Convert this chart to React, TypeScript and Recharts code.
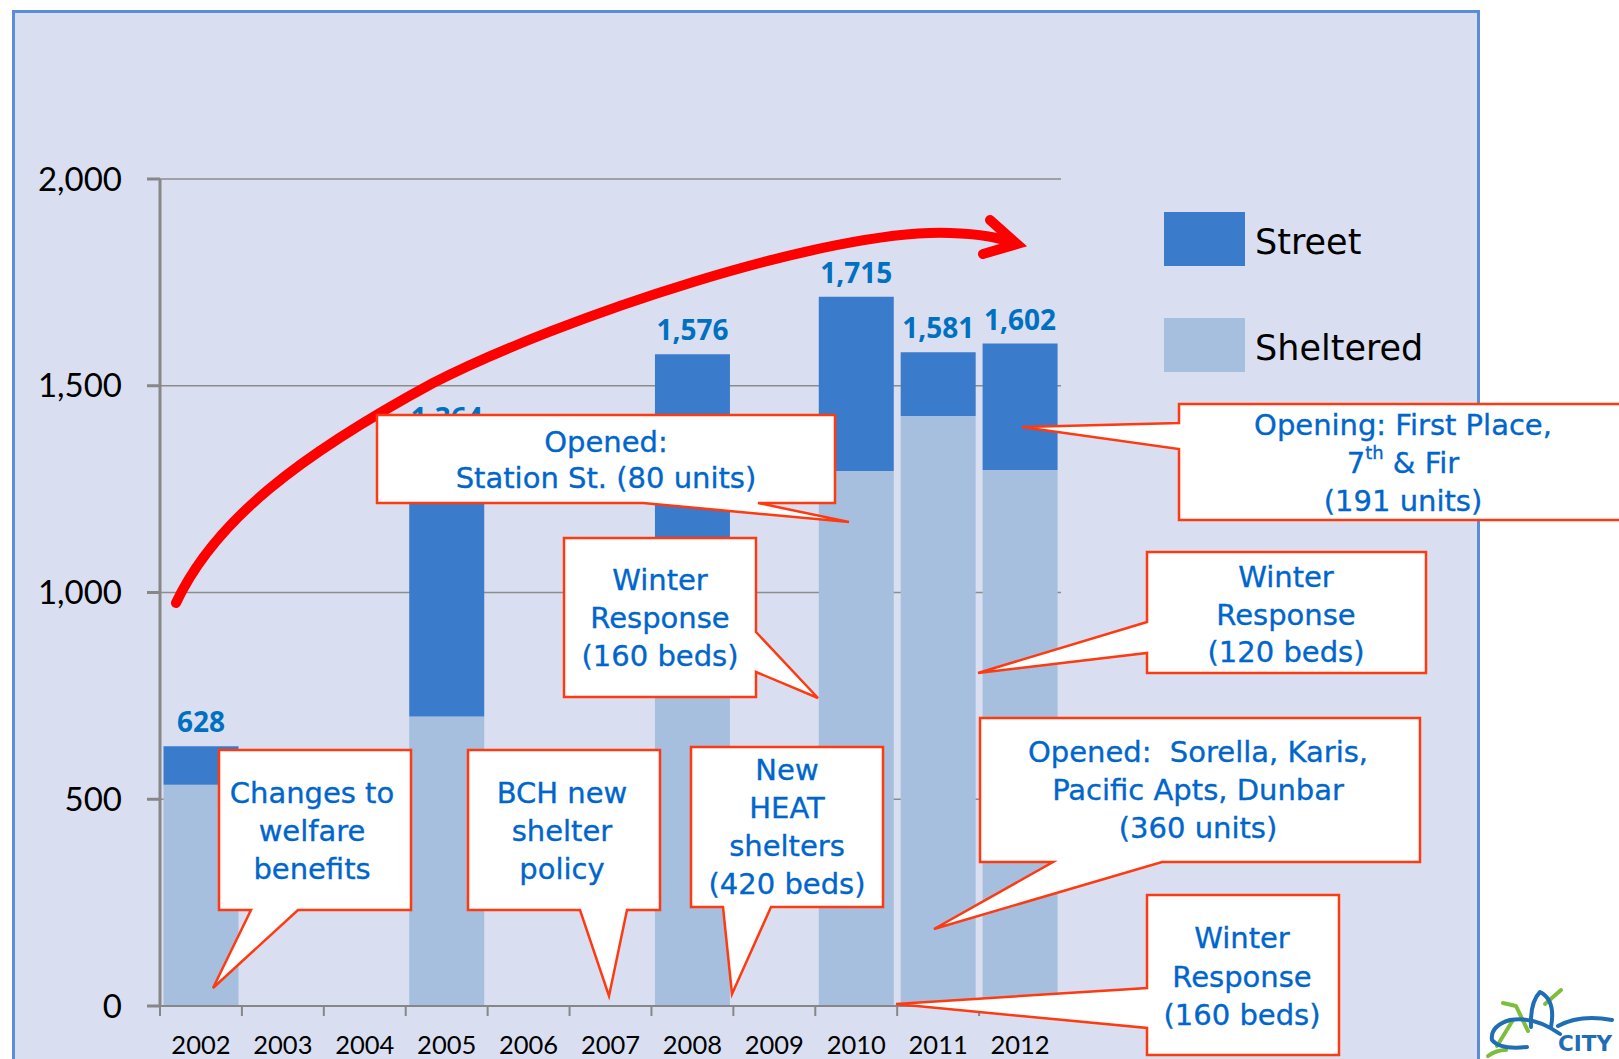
import React from "react";
import { BarChart, Bar, XAxis, YAxis, CartesianGrid, LabelList, Legend } from "recharts";

// counts per year (empty years have no count)
const years = ["2002", "2003", "2004", "2005", "2006", "2007", "2008", "2009", "2010", "2011", "2012"];
const sheltered = [535, null, null, 700, null, null, 765, null, 1294, 1427, 1296];
const street = [93, null, null, 664, null, null, 811, null, 421, 154, 306];
const totals = [628, null, null, 1364, null, null, 1576, null, 1715, 1581, 1602];
const yTicks = [0, 500, 1000, 1500, 2000];

const data = years.map((year, i) => ({
  year,
  sheltered: sheltered[i],
  street: street[i],
  total: totals[i],
}));

const STREET = "#3A7BCB";
const SHELTERED = "#A7BFDE";
const AXIS = "#878787";
const CALLOUT_TEXT = "#0066CC";
const CALLOUT_LINE = "#FF3A10";
const FONT = "'DejaVu Sans', sans-serif";

// speech bubbles: outline path, text centre and lines
const callouts = [
  {
    d: "M219,750 H411 V910 H298 L213,988 L251,910 H219 Z",
    cx: 312,
    lines: [[793, "Changes to"], [831, "welfare"], [869, "benefits"]],
  },
  {
    d: "M468,750 H660 V910 H627 L609,996 L580,910 H468 Z",
    cx: 562,
    lines: [[793, "BCH new"], [831, "shelter"], [869, "policy"]],
  },
  {
    d: "M691,747 H883 V907 H771 L732,994 L723,907 H691 Z",
    cx: 787,
    lines: [[770, "New"], [808, "HEAT"], [846, "shelters"], [884, "(420 beds)"]],
  },
  {
    d: "M377,415 H835 V503 H758 L849,522 L643,503 H377 Z",
    cx: 606,
    lines: [[442, "Opened:"], [478, "Station St. (80 units)"]],
  },
  {
    d: "M564,538 H756 V632 L818,698 L756,672 V697 H564 Z",
    cx: 660,
    lines: [[580, "Winter"], [618, "Response"], [656, "(160 beds)"]],
  },
  {
    d: "M1147,552 H1426 V673 H1147 V653 L978,673 L1147,622 Z",
    cx: 1286,
    lines: [[577, "Winter"], [615, "Response"], [652, "(120 beds)"]],
  },
  {
    d: "M980,718 H1420 V862 H1162 L934,929 L1053,862 H980 Z",
    cx: 1198,
    lines: [[752, "Opened:  Sorella, Karis,"], [790, "Pacific Apts, Dunbar"], [828, "(360 units)"]],
  },
  {
    d: "M1147,895 H1339 V1055 H1147 V1028 L896,1004 L1147,988 Z",
    cx: 1242,
    lines: [[938, "Winter"], [977, "Response"], [1015, "(160 beds)"]],
  },
];

function YearTick(props: any) {
  const { x, y, payload, index } = props;
  const half = payload && payload.offset ? payload.offset : 41;
  const last = index === years.length - 1;
  return (
    <g>
      <line x1={x - half} x2={x - half} y1={y} y2={y + 10} stroke={AXIS} strokeWidth={2} />
      {last && <line x1={x + half} x2={x + half} y1={y} y2={y + 10} stroke={AXIS} strokeWidth={2} />}
      <text x={x} y={y + 48} textAnchor="middle" fontFamily="Lato" fontSize={25.5} fill="#000">
        {payload.value}
      </text>
    </g>
  );
}

function TotalLabel(props: any) {
  const { x, y, width, value } = props;
  if (value == null) return null;
  return (
    <text
      x={x + width / 2}
      y={y - 14}
      textAnchor="middle"
      fontFamily="'Open Sans', sans-serif"
      fontWeight="bold"
      fontSize={28}
      fill="#0070C0"
    >
      {Number(value).toLocaleString("en-US")}
    </text>
  );
}

function LegendBox() {
  const items = [
    { name: "Street", color: STREET },
    { name: "Sheltered", color: SHELTERED },
  ];
  return (
    <div>
      {items.map((it, i) => (
        <div key={it.name} style={{ display: "flex", alignItems: "center", height: 54, marginBottom: i === 0 ? 52 : 0 }}>
          <div style={{ width: 81, height: 54, background: it.color }} />
          <span style={{ marginLeft: 10, fontFamily: FONT, fontSize: 35, color: "#000", lineHeight: "54px", paddingTop: 6 }}>
            {it.name}
          </span>
        </div>
      ))}
    </div>
  );
}

function Overlay() {
  const txt = {
    dominantBaseline: "central" as const,
    textAnchor: "middle" as const,
    fontFamily: FONT,
    fontSize: 29,
    fill: CALLOUT_TEXT,
    stroke: CALLOUT_TEXT,
    strokeWidth: 0.35,
  };
  return (
    <svg width={1619} height={1059} style={{ position: "absolute", left: 0, top: 0, pointerEvents: "none" }}>
      {/* red trend arrow */}
      <path
        d="M176,603 C215,520 300,455 433,383 C560,318 830,228 950,233 C985,234 1002,238 1016,244"
        fill="none"
        stroke="#FF0000"
        strokeWidth={10}
        strokeLinecap="round"
      />
      <path d="M990,220 L1017,244 L983,254" fill="none" stroke="#FF0000" strokeWidth={10} strokeLinecap="round" strokeLinejoin="miter" />

      {callouts.map((c, i) => (
        <g key={i}>
          <path d={c.d} fill="#fff" stroke={CALLOUT_LINE} strokeWidth={2.5} strokeLinejoin="miter" />
          {c.lines.map(([y, t]) => (
            <text key={String(t)} x={c.cx} y={y as number} {...txt} style={{ whiteSpace: "pre" }}>
              {t}
            </text>
          ))}
        </g>
      ))}

      {/* callout running off the right edge */}
      <path d="M1179,404 H1640 V520 H1179 V449 L1022,427 L1179,423 Z" fill="#fff" stroke={CALLOUT_LINE} strokeWidth={2.5} />
      <text x={1403} y={425} {...txt}>
        Opening: First Place,
      </text>
      <text x={1403} y={463} {...txt}>
        7<tspan fontSize={18} dy={-11}>th</tspan>
        <tspan dy={11}> &amp; Fir</tspan>
      </text>
      <text x={1403} y={501} {...txt}>
        (191 units)
      </text>

      {/* city logo in the corner */}
      <g fill="none" strokeWidth={4} strokeLinecap="round" strokeLinejoin="round">
        <path d="M1503,1003 L1516,1006 L1528,1031" stroke="#7DBE3A" />
        <path d="M1513,1020 L1497,1046" stroke="#7DBE3A" />
        <path d="M1545,1004 L1561,990" stroke="#7DBE3A" />
        <path d="M1488,1056 Q1496,1050 1506,1050" stroke="#7DBE3A" />
        <path d="M1531,1027 Q1530,1002 1540,992 Q1556,1000 1551,1027" stroke="#1F6DB4" />
        <path d="M1560,1034 Q1535,1016 1510,1020 Q1490,1026 1492,1040 Q1500,1050 1527,1047" stroke="#1F6DB4" />
        <path d="M1558,1026 Q1580,1014 1612,1020" stroke="#1F6DB4" />
      </g>
      <text x={1558} y={1051} fontFamily={FONT} fontWeight="bold" fontSize={22} fill="#1F6DB4" textLength={54} lengthAdjust="spacingAndGlyphs">
        CITY
      </text>
    </svg>
  );
}

export default function App() {
  return (
    <div style={{ position: "fixed", left: 0, top: 0, width: 1619, height: 1059, overflow: "hidden", background: "#fff" }}>
      <div
        style={{
          position: "absolute",
          left: 12,
          top: 10,
          width: 1468,
          height: 1080,
          background: "#D9DFF1",
          border: "3px solid #5B8ED8",
          boxSizing: "border-box",
        }}
      />
      <div style={{ position: "absolute", left: 0, top: 0 }}>
        <BarChart
          width={1619}
          height={1059}
          data={data}
          margin={{ top: 179, right: 558, bottom: 0, left: 10 }}
          barCategoryGap={3.5}
        >
          <CartesianGrid vertical={false} stroke="#8C8C8C" strokeWidth={1.5} />
          <XAxis
            dataKey="year"
            interval={0}
            height={53}
            axisLine={{ stroke: AXIS, strokeWidth: 2 }}
            tickLine={false}
            tickSize={0}
            tickMargin={0}
            tick={<YearTick />}
          />
          <YAxis
            domain={[0, 2000]}
            ticks={yTicks}
            interval={0}
            width={150}
            axisLine={{ stroke: AXIS, strokeWidth: 3 }}
            tickLine={{ stroke: AXIS, strokeWidth: 3 }}
            tickSize={13}
            tickMargin={25}
            tick={{ fontFamily: "Lato", fontSize: 33, fill: "#000" }}
            tickFormatter={(v: number) => v.toLocaleString("en-US")}
          />
          <Legend
            layout="vertical"
            align="center"
            verticalAlign="middle"
            wrapperStyle={{ left: 1164, top: 212, width: 320 }}
            content={<LegendBox />}
          />
          <Bar dataKey="sheltered" name="Sheltered" stackId="a" fill={SHELTERED} isAnimationActive={false} />
          <Bar dataKey="street" name="Street" stackId="a" fill={STREET} isAnimationActive={false}>
            <LabelList dataKey="total" content={<TotalLabel />} />
          </Bar>
        </BarChart>
      </div>
      <Overlay />
    </div>
  );
}
